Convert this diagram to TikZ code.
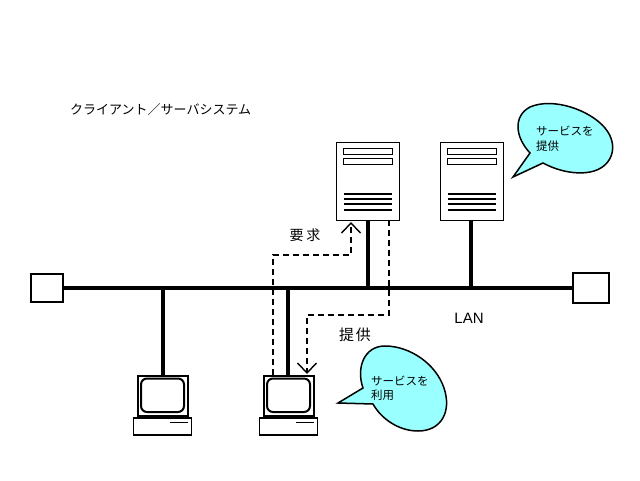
\documentclass[tikz,border=0pt]{standalone}
\usepackage{fontspec}
\setmainfont{Liberation Sans}
\newfontfamily\jpfont{Noto Sans CJK JP}
\usepackage{xcolor}
\usetikzlibrary{arrows.meta}
\definecolor{BalloonCyan}{RGB}{153,255,255}
\tikzset{
	unitbox/.style={draw, line width=1pt, fill=white, inner sep=0pt, outer sep=0pt},
	hubbox/.style={unitbox, line width=1.6pt},
	busline/.style={line width=3.6pt},
	dropline/.style={line width=3.4pt},
	msgline/.style={line width=1.4pt, dash pattern=on 6pt off 4pt, -{Straight Barb[length=10pt,width=19pt,line width=1.4pt]}},
	balloon/.style={draw, line width=1.5pt, fill=BalloonCyan, line join=miter},
	jplabel/.style={inner sep=0pt, font=\fontsize{14}{16}\selectfont\jpfont},
	smalllabel/.style={inner sep=0pt, align=left, font=\fontsize{11.5}{14.5}\selectfont\jpfont}
}
\begin{document}
\begin{tikzpicture}[x=1pt, y=-1pt]
	\useasboundingbox (0,0) rectangle (640,480);
	% 題名
	\node[jplabel, anchor=west, font=\fontsize{13}{16}\selectfont\jpfont] (title) at (70,109.5) {クライアント／サーバシステム};
	% 集線装置
	\node[hubbox, minimum width=32pt, minimum height=28pt] (hubL) at (47,288) {};
	\node[hubbox, minimum width=36pt, minimum height=30pt] (hubR) at (591,288) {};
	% 幹線と分岐点
	\draw[busline] (hubL.east) -- (hubR.west);
	\coordinate (tapA) at (163,288);
	\coordinate (tapB) at (288,288);
	\coordinate (tapC) at (368,288);
	\coordinate (tapD) at (471,288);
	% サーバ
	\foreach \name/\xc in {srvA/368, srvB/472}{
		\node[unitbox, minimum width=63pt, minimum height=78pt] (\name) at (\xc,181) {};
		\foreach \yy in {148,158}
			\draw[line width=0.9pt] (\xc-24.5,\yy) rectangle ++(49,6.5);
		\foreach \yy in {194,199,204,209.5}
			\draw[line width=2pt] (\xc-24.5,\yy) -- ++(48,0);
	}
	% 端末
	\foreach \name/\xc in {pcA/162.5, pcB/288.5}{
		\node[unitbox, line width=2pt, minimum width=50pt, minimum height=40pt] (\name) at (\xc,395.5) {};
		\draw[line width=2pt, rounded corners=6pt] (\xc-21.5,378.5) rectangle (\xc+21.5,412);
		\node[unitbox, line width=1.4pt, minimum width=58pt, minimum height=17pt] (\name key) at (\xc,426.5) {};
		\draw[line width=0.8pt] (\xc+7,422) -- (\xc+25,422);
	}
	% 分岐線
	\draw[dropline] (tapA) -- (tapA |- pcA.north);
	\draw[dropline] (tapB) -- (tapB |- pcB.north);
	\draw[dropline] (tapC) -- (tapC |- srvA.south);
	\draw[dropline] (tapD) -- (tapD |- srvB.south);
	% 要求と提供
	\coordinate (reqStart) at (273,375);
	\coordinate (reqEnd) at (351,222);
	\coordinate (repStart) at (389,220);
	\coordinate (repEnd) at (307,374);
	\draw[msgline] (reqStart) -- (273,255) -- (351,255) -- (reqEnd);
	\draw[msgline] (repStart) -- (389,315) -- (307,315) -- (repEnd);
	\node[jplabel] (reqLabel) at (305,235.5) {要\hspace{3pt}求};
	\node[jplabel, font=\fontsize{15}{16}\selectfont\jpfont] (repLabel) at (355,334.5) {提\hspace{2pt}供};
	\node[font=\fontsize{15}{16}\selectfont, inner sep=0pt] (lanLabel) at (469,318.5) {LAN};
	% 吹き出し
	\draw[balloon] (513,177) -- (530,153)
		.. controls (515,137) and (513,116) .. (530,107)
		.. controls (553,97) and (590,110) .. (605,128)
		.. controls (620,146) and (612,168) .. (590,172)
		.. controls (574,175) and (556,170) .. (543,163) -- cycle;
	\node[smalllabel, anchor=north west] (srvNote) at (536,126) {サービスを\\提供};
	\draw[balloon] (338,403) -- (363,388)
		.. controls (356,368) and (364,346) .. (385,346)
		.. controls (410,346) and (436,364) .. (444,388)
		.. controls (452,412) and (441,431) .. (418,431)
		.. controls (400,431) and (382,420) .. (373,404) -- cycle;
	\node[smalllabel, anchor=north west] (pcNote) at (371,375.5) {サービスを\\利用};
\end{tikzpicture}
\end{document}
